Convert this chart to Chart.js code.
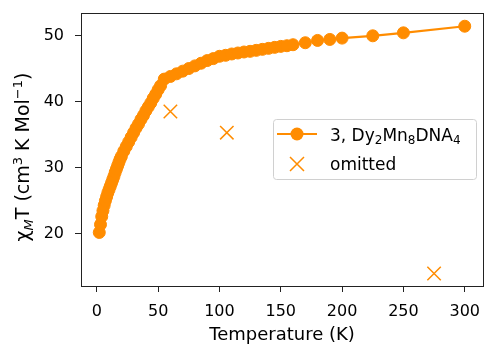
<!DOCTYPE html>
<html>
<head>
<meta charset="utf-8">
<script src="https://cdn.jsdelivr.net/npm/chart.js@4/dist/chart.umd.min.js"></script>
<style>
  body { margin: 0; background: #fff; }
  #wrap { width: 486px; height: 346px; }
</style>
</head>
<body>
<div id="wrap"><canvas id="chiplot"></canvas></div>
<script>
// measured chi_M*T vs temperature, compound 3
var tempK = [2, 3, 4, 5, 6, 7, 8, 9, 10, 11, 12, 13, 14, 15, 16, 17, 18, 19, 20,
    22, 24, 26, 28, 30, 32, 34, 36, 38, 40, 42, 44, 46, 48, 50, 52, 55,
    60, 65, 70, 75, 80, 85, 90, 95, 100, 105, 110, 115, 120, 125, 130, 135,
    140, 145, 150, 155, 160, 170, 180, 190, 200, 225, 250, 300]
var chiT = [20.2, 21.4, 22.6, 23.5, 24.3, 25.0, 25.6, 26.2, 26.7, 27.2, 27.7, 28.2, 28.7, 29.3, 29.8, 30.3, 30.8, 31.3, 31.7,
    32.5, 33.2, 33.9, 34.6, 35.3, 36.0, 36.6, 37.3, 37.9, 38.6, 39.2, 39.8, 40.5, 41.1, 41.8, 42.4, 43.4,
    43.8, 44.2, 44.6, 45.0, 45.4, 45.8, 46.2, 46.5, 46.85, 47.0, 47.2, 47.35, 47.5, 47.6, 47.75, 47.9,
    48.05, 48.2, 48.35, 48.45, 48.6, 48.9, 49.25, 49.4, 49.6, 49.95, 50.4, 51.4]
// points left out of the fit
var omitT = [60, 106, 275]
var omitChi = [38.5, 35.3, 14.0]

var xTicks = [0, 50, 100, 150, 200, 250, 300]
var yTicks = [20, 30, 40, 50]
var seriesName = '3, Dy₂Mn₈DNA₄'
var omitName = 'omitted'

var orange = '#ff8c00'
var font = 'DejaVu Sans'

var mainPts = tempK.map(function (t, i) { return { x: t, y: chiT[i] } })
var omitPts = omitT.map(function (t, i) { return { x: t, y: omitChi[i] } })

// draw a run of [text, font, dy] pieces one after another
function drawRun(ctx, parts, x, y) {
    parts.forEach(function (p) {
        ctx.font = p[1] + ' "' + font + '"'
        ctx.fillText(p[0], x, y + p[2])
        x += ctx.measureText(p[0]).width
    })
}
function runWidth(ctx, parts) {
    var w = 0
    parts.forEach(function (p) {
        ctx.font = p[1] + ' "' + font + '"'
        w += ctx.measureText(p[0]).width
    })
    return w
}

// frame, legend box and y label drawn by hand (matplotlib look)
var extras = {
    id: 'extras',
    afterDraw: function (chart) {
        var ctx = chart.ctx
        var a = chart.chartArea
        ctx.save()
        ctx.strokeStyle = '#222'
        ctx.lineWidth = 1
        ctx.strokeRect(Math.round(a.left) + 0.5, Math.round(a.top) + 0.5,
            Math.round(a.right - a.left), Math.round(a.bottom - a.top))

        // legend
        ctx.beginPath()
        ctx.roundRect(273.5, 119.5, 203, 60, 3)
        ctx.fillStyle = 'rgba(255,255,255,0.8)'
        ctx.fill()
        ctx.strokeStyle = '#d0d0d0'
        ctx.stroke()

        ctx.strokeStyle = orange
        ctx.lineWidth = 2
        ctx.beginPath()
        ctx.moveTo(277, 134)
        ctx.lineTo(317, 134)
        ctx.stroke()
        ctx.fillStyle = orange
        ctx.beginPath()
        ctx.arc(297, 134, 6.5, 0, Math.PI * 2)
        ctx.fill()

        ctx.lineWidth = 1.5
        ctx.beginPath()
        ctx.moveTo(290, 157); ctx.lineTo(304, 171)
        ctx.moveTo(304, 157); ctx.lineTo(290, 171)
        ctx.stroke()

        ctx.fillStyle = '#000'
        ctx.textBaseline = 'alphabetic'
        ctx.textAlign = 'left'
        drawRun(ctx, [
            ['3, Dy', '17px', 0], ['2', '12px', 3], ['Mn', '17px', 0],
            ['8', '12px', 3], ['DNA', '17px', 0], ['4', '12px', 3]
        ], 330, 141)
        ctx.font = '17px "' + font + '"'
        ctx.fillText(omitName, 330, 170)

        // y axis title, rotated, with sub/superscripts
        ctx.translate(24, 157)
        ctx.rotate(-Math.PI / 2)
        var parts = [
            ['χ', '19px', 0],
            ['M', 'italic 13px', 4],
            ['T (cm', '19px', 0],
            ['3', '13px', -7],
            [' K Mol', '19px', 0],
            ['−1', '13px', -7],
            [')', '19px', 0]
        ]
        drawRun(ctx, parts, -runWidth(ctx, parts) / 2, 5)
        ctx.restore()
    }
}

var ctx = document.getElementById('chiplot').getContext('2d')
var chart = new Chart(ctx, {
    type: 'scatter',
    data: {
        datasets: [
            {
                label: seriesName,
                data: mainPts,
                showLine: true,
                borderColor: orange,
                backgroundColor: orange,
                borderWidth: 2.2,
                pointRadius: 6,
                pointBorderWidth: 1,
                pointBackgroundColor: orange,
                pointBorderColor: orange
            },
            {
                label: omitName,
                data: omitPts,
                showLine: false,
                pointStyle: 'crossRot',
                pointRadius: 9.5,
                pointBorderWidth: 1.5,
                borderColor: orange,
                pointBorderColor: orange
            }
        ]
    },
    options: {
        responsive: true,
        maintainAspectRatio: false,
        animation: false,
        events: [],
        layout: { autoPadding: false, padding: { top: 13, right: 3, left: 0, bottom: 0 } },
        plugins: {
            legend: { display: false },
            tooltip: { enabled: false }
        },
        scales: {
            x: {
                type: 'linear',
                min: -12.9,
                max: 314.9,
                afterFit: function (s) { s.height = 60; s.paddingLeft = 0; s.paddingRight = 0 },
                afterBuildTicks: function (s) { s.ticks = xTicks.map(function (v) { return { value: v } }) },
                grid: { drawOnChartArea: false, drawTicks: true, tickLength: 6, color: '#222' },
                border: { display: true, color: '#222', width: 1 },
                ticks: { color: '#000', padding: 10, maxRotation: 0, font: { family: font, size: 16 } },
                title: {
                    display: true,
                    text: 'Temperature (K)',
                    color: '#000',
                    padding: { top: 0, bottom: 0 },
                    font: { family: font, size: 18 }
                }
            },
            y: {
                type: 'linear',
                min: 12.1,
                max: 53.4,
                afterFit: function (s) { s.width = 81; s.paddingTop = 0; s.paddingBottom = 0 },
                afterBuildTicks: function (s) { s.ticks = yTicks.map(function (v) { return { value: v } }) },
                grid: { drawOnChartArea: false, drawTicks: true, tickLength: 6, color: '#222' },
                border: { display: true, color: '#222', width: 1 },
                ticks: { color: '#000', padding: 11, font: { family: font, size: 16 } }
            }
        }
    },
    plugins: [extras]
})
</script>
</body>
</html>
